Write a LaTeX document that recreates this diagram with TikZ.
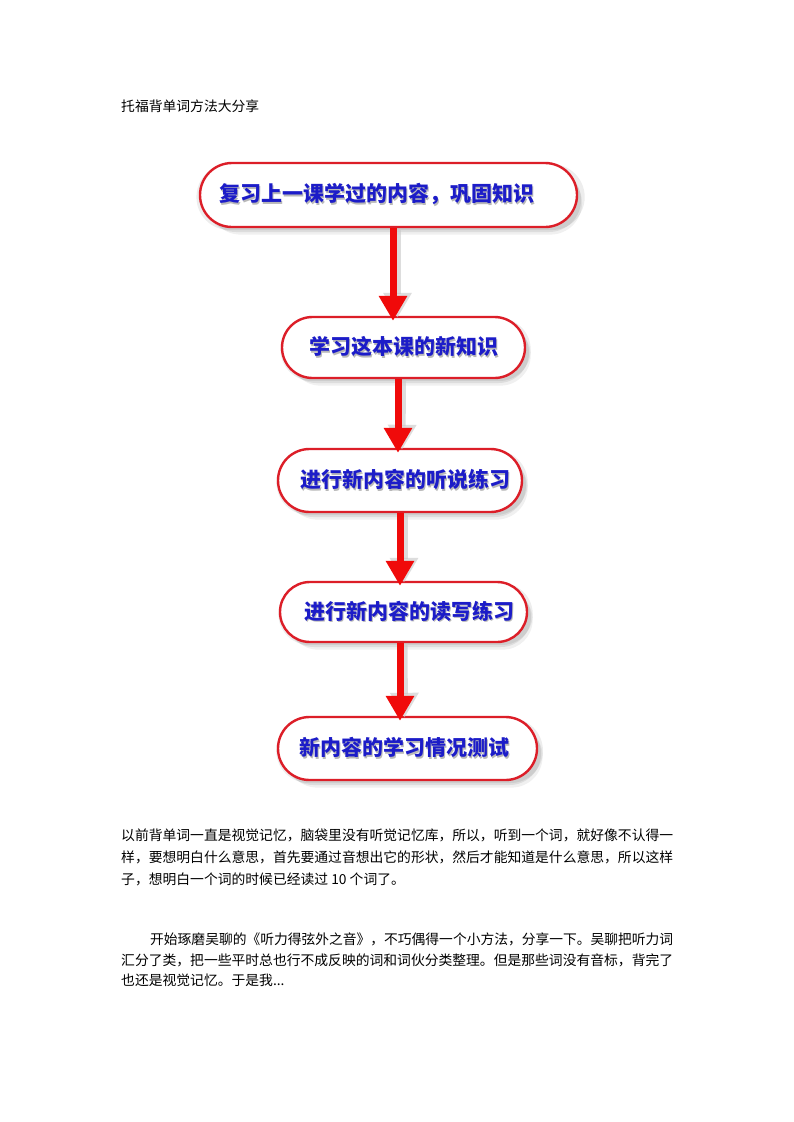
\documentclass[tikz,border=0pt]{standalone}
\usepackage{graphicx}
\usepackage{fontspec}
\setmainfont{Noto Sans CJK SC}
\usetikzlibrary{shapes.misc,arrows.meta,shadows}
\definecolor{boxred}{HTML}{DC1E28}
\definecolor{arrred}{HTML}{F00A0A}
\definecolor{txtblue}{HTML}{1C1CC8}
\newcommand\shtxt[1]{\rlap{\hspace{1.3pt}\raisebox{-1.3pt}{\color{black!28}#1}}#1}
\newcommand\fullline[2]{\resizebox{#1}{\height}{#2}}
\begin{document}
\begin{tikzpicture}[x=1pt,y=-1pt,
  flowbox/.style={rounded rectangle, draw=boxred, line width=2.4pt, fill=white,
    inner sep=0pt, text=txtblue, font=\fontsize{21}{24}\selectfont\bfseries,
    general shadow={fill=black,opacity=.07,shadow xshift=2pt,shadow yshift=-2pt,shadow scale=1.03},
    general shadow={fill=black,opacity=.08,shadow xshift=4pt,shadow yshift=-5pt},
    general shadow={fill=black,opacity=.06,shadow xshift=7pt,shadow yshift=-8pt,shadow scale=0.99}},
  flowarr/.style={draw=arrred, line width=7pt, -{Triangle[length=25pt 0,width=27pt 0]}, shorten >=-5pt},
  arrshade/.style={draw=black!22, line width=7pt, -{Triangle[length=25pt 0,width=27pt 0]}, shorten >=-5pt, opacity=.6},
  bodyline/.style={inner sep=0pt, anchor=west, font=\fontsize{13.8}{16}\selectfont}
]
\useasboundingbox[fill=white] (0,0) rectangle (793,1122);

\node[bodyline] (title) at (121,106) {托福背单词方法大分享};

\node[flowbox, minimum width=377pt, minimum height=64pt] (b1) at (388.5,195) {\shtxt{复习上一课学过的内容，巩固知识}\hspace*{24pt}};
\node[flowbox, minimum width=243pt, minimum height=61pt] (b2) at (403.5,347.5) {\shtxt{学习这本课的新知识}};
\node[flowbox, minimum width=244pt, minimum height=63pt] (b3) at (400,480.5) {\hspace*{10pt}\shtxt{进行新内容的听说练习}};
\node[flowbox, minimum width=247pt, minimum height=60pt] (b4) at (403.5,612) {\hspace*{12pt}\shtxt{进行新内容的读写练习}};
\node[flowbox, minimum width=259pt, minimum height=63pt] (b5) at (407.5,748.5) {\shtxt{新内容的学习情况测试}\hspace*{6pt}};

\draw[arrshade] ([xshift=9pt,yshift=-2pt]b1.south) -- ([xshift=-6pt,yshift=3pt]b2.north);
\draw[flowarr] ([xshift=4.5pt]b1.south) -- ([xshift=-10.5pt]b2.north);
\draw[arrshade] ([xshift=-1pt,yshift=-2pt]b2.south) -- ([xshift=2pt,yshift=3pt]b3.north);
\draw[flowarr] ([xshift=-5.5pt]b2.south) -- ([xshift=-2pt]b3.north);
\draw[arrshade] ([xshift=4pt,yshift=-2pt]b3.south) -- ([xshift=0.5pt,yshift=3pt]b4.north);
\draw[flowarr] ([xshift=0pt]b3.south) -- ([xshift=-3.5pt]b4.north);
\draw[arrshade] ([xshift=0.5pt,yshift=-2pt]b4.south) -- ([xshift=-3pt,yshift=3pt]b5.north);
\draw[flowarr] ([xshift=-3.5pt]b4.south) -- ([xshift=-7.5pt]b5.north);

\node[bodyline] (p1a) at (121,835) {\fullline{552pt}{以前背单词一直是视觉记忆，脑袋里没有听觉记忆库，所以，听到一个词，就好像不认得一}};
\node[bodyline] (p1b) at (121,857) {\fullline{552pt}{样，要想明白什么意思，首先要通过音想出它的形状，然后才能知道是什么意思，所以这样}};
\node[bodyline] (p1c) at (121,879) {子，想明白一个词的时候已经读过 10 个词了。};

\node[bodyline] (p2a) at (150,939.5) {\fullline{523pt}{开始琢磨吴聊的《听力得弦外之音》，不巧偶得一个小方法，分享一下。吴聊把听力词}};
\node[bodyline] (p2b) at (121,960) {\fullline{552pt}{汇分了类，把一些平时总也行不成反映的词和词伙分类整理。但是那些词没有音标，背完了}};
\node[bodyline] (p2c) at (121,980.5) {也还是视觉记忆。于是我...};
\end{tikzpicture}
\end{document}
